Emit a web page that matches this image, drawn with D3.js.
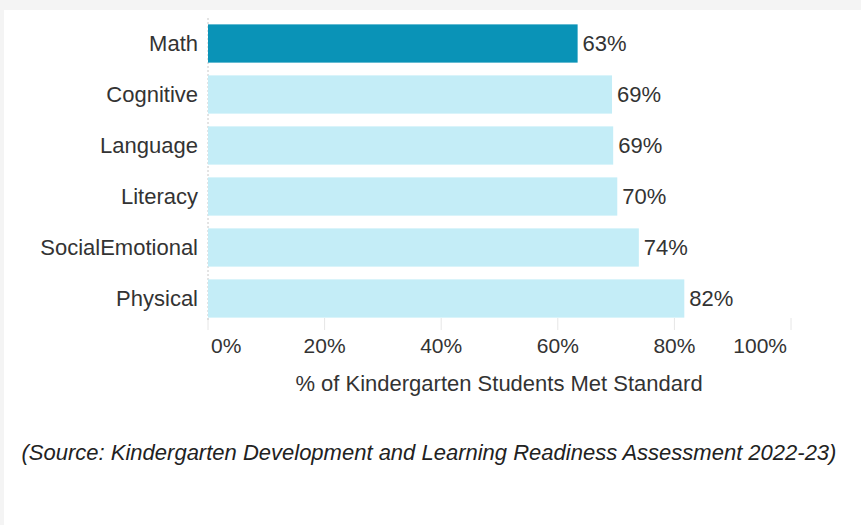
<!DOCTYPE html>
<html>
<head>
<meta charset="utf-8">
<script src="https://cdn.jsdelivr.net/npm/d3@7"></script>
<style>
  body { margin: 0; background: #f4f4f4; }
  svg { display: block; font-family: Arial, "Liberation Sans", sans-serif; }
</style>
</head>
<body>
<svg width="861" height="525"></svg>
<script>
var categories = ['Math', 'Cognitive', 'Language', 'Literacy', 'SocialEmotional', 'Physical'];
var values = [63.4, 69.3, 69.5, 70.2, 73.9, 81.7];
var valueLabels = ['63%', '69%', '69%', '70%', '74%', '82%'];
var ticks = [0, 20, 40, 60, 80, 100];
var axisTitle = '% of Kindergarten Students Met Standard';
var source = '(Source: Kindergarten Development and Learning Readiness Assessment 2022-23)';

var svg = d3.select('svg');

// white panel over the grey page
svg.append('rect')
    .attr('x', 4).attr('y', 10)
    .attr('width', 861).attr('height', 525)
    .attr('fill', '#fff');

var x = d3.scaleLinear().domain([0, 100]).range([208, 791]);
var y = d3.scaleBand().domain(categories).range([18, 324])
    .paddingInner(0.25).paddingOuter(0.125);

// tick marks
svg.selectAll('.tick-line')
    .data(ticks)
    .enter().append('line')
    .attr('x1', function(d) { return x(d); })
    .attr('x2', function(d) { return x(d); })
    .attr('y1', 318).attr('y2', 330)
    .attr('stroke', '#e6e6e6')
    .attr('stroke-width', 1);

// dashed baseline
svg.append('line')
    .attr('x1', x(0)).attr('x2', x(0))
    .attr('y1', 18).attr('y2', 322)
    .attr('stroke', '#c8c8c8')
    .attr('stroke-dasharray', '2,2');

svg.selectAll('.bar')
    .data(categories)
    .enter().append('rect')
    .attr('x', x(0))
    .attr('y', function(d) { return y(d); })
    .attr('width', function(d, i) { return x(values[i]) - x(0); })
    .attr('height', y.bandwidth())
    .attr('fill', function(d, i) { return i === 0 ? '#0a93b7' : '#c4edf7'; });

svg.selectAll('.cat')
    .data(categories)
    .enter().append('text')
    .attr('x', 198)
    .attr('y', function(d) { return y(d) + y.bandwidth() / 2; })
    .attr('dy', '0.32em')
    .attr('text-anchor', 'end')
    .attr('font-size', 22)
    .attr('fill', '#333')
    .text(function(d) { return d; });

svg.selectAll('.val')
    .data(categories)
    .enter().append('text')
    .attr('x', function(d, i) { return x(values[i]) + 5; })
    .attr('y', function(d) { return y(d) + y.bandwidth() / 2; })
    .attr('dy', '0.32em')
    .attr('font-size', 22)
    .attr('fill', '#333')
    .text(function(d, i) { return valueLabels[i]; });

svg.selectAll('.tick-label')
    .data(ticks)
    .enter().append('text')
    .attr('x', function(d, i) { return i === 0 ? x(d) + 3 : i === ticks.length - 1 ? x(d) - 4 : x(d); })
    .attr('y', 353)
    .attr('text-anchor', function(d, i) { return i === 0 ? 'start' : i === ticks.length - 1 ? 'end' : 'middle'; })
    .attr('font-size', 21)
    .attr('fill', '#333')
    .text(function(d) { return d + '%'; });

svg.append('text')
    .attr('x', 499).attr('y', 391)
    .attr('text-anchor', 'middle')
    .attr('font-size', 22)
    .attr('fill', '#333')
    .text(axisTitle);

svg.append('text')
    .attr('x', 429).attr('y', 460)
    .attr('text-anchor', 'middle')
    .attr('font-size', 22)
    .attr('font-style', 'italic')
    .attr('fill', '#222')
    .text(source);
</script>
</body>
</html>
